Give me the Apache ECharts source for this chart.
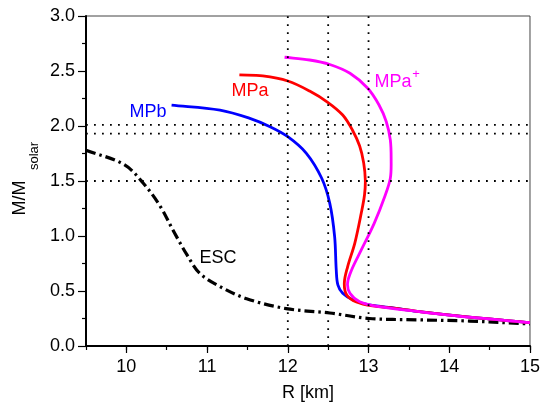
<!DOCTYPE html>
<html><head><meta charset="utf-8">
<script src="https://cdn.jsdelivr.net/npm/echarts@6/dist/echarts.min.js"></script>
<style>html,body{margin:0;padding:0;background:#fff}#c{width:543px;height:407px}</style>
</head><body><div id="c"></div>
<script>
// Data
const mpbR = [10.56, 11.16, 11.53, 11.78, 12.00, 12.23, 12.42, 12.52, 12.58, 12.60, 12.62, 12.68, 12.81, 13.01, 13.34, 13.63, 14.25, 15.0];
const mpbM = [2.19, 2.145, 2.07, 1.994, 1.903, 1.752, 1.525, 1.297, 0.994, 0.691, 0.555, 0.479, 0.418, 0.373, 0.343, 0.312, 0.262, 0.213];
const mpaR = [11.40, 11.69, 12.00, 12.27, 12.49, 12.68, 12.80, 12.89, 12.94, 12.96, 12.95, 12.91, 12.83, 12.74, 12.70, 12.73, 12.85, 13.05, 13.34, 13.63, 14.25, 15.0];
const mpaM = [2.464, 2.455, 2.409, 2.318, 2.218, 2.10, 1.964, 1.818, 1.664, 1.509, 1.373, 1.209, 0.936, 0.718, 0.573, 0.464, 0.40, 0.364, 0.343, 0.312, 0.262, 0.213];
const mppR = [11.96, 12.27, 12.52, 12.77, 12.99, 13.13, 13.22, 13.27, 13.28, 13.27, 13.20, 13.07, 12.91, 12.79, 12.74, 12.77, 12.89, 13.13, 13.63, 14.25, 15.0];
const mppM = [2.625, 2.60, 2.559, 2.479, 2.343, 2.191, 2.039, 1.873, 1.691, 1.525, 1.357, 1.115, 0.873, 0.691, 0.57, 0.479, 0.403, 0.357, 0.312, 0.262, 0.213];
const escR = [9.5, 9.97, 10.21, 10.42, 10.58, 10.75, 10.91, 11.16, 11.49, 11.98, 12.52, 13.01, 13.6, 14.25, 15.0];
const escM = [1.78, 1.65, 1.48, 1.27, 1.05, 0.83, 0.66, 0.54, 0.43, 0.34, 0.30, 0.25, 0.238, 0.227, 0.20];
const refR = [12, 12.5, 13];
const refM = [2.01, 1.93, 1.5];
const xTicks = [10, 11, 12, 13, 14, 15];

const zip = (a, b) => a.map((v, i) => [v, b[i]]);
const FONT = 'Liberation Sans';

// Smooth path through pixel points (chord-length tangents, cubic Bezier segments)
function buildPath(p, s) {
  const n = p.length;
  const tan = p.map((pt, i) => {
    const a = p[Math.max(i - 1, 0)], b = p[Math.min(i + 1, n - 1)];
    return [b[0] - a[0], b[1] - a[1]];
  });
  let d = 'M' + p[0][0] + ',' + p[0][1];
  for (let i = 0; i < n - 1; i++) {
    const p0 = p[i], p1 = p[i + 1];
    const L = Math.hypot(p1[0] - p0[0], p1[1] - p0[1]);
    const t0 = tan[i], t1 = tan[i + 1];
    const n0 = Math.hypot(t0[0], t0[1]) || 1, n1 = Math.hypot(t1[0], t1[1]) || 1;
    const c1 = [p0[0] + t0[0] / n0 * L * s, p0[1] + t0[1] / n0 * L * s];
    const c2 = [p1[0] - t1[0] / n1 * L * s, p1[1] - t1[1] / n1 * L * s];
    d += ' C' + c1[0] + ',' + c1[1] + ',' + c2[0] + ',' + c2[1] + ',' + p1[0] + ',' + p1[1];
  }
  return d;
}

function curve(name, R, M, style, z) {
  return {
    type: 'custom', name: name, data: zip(R, M), z: z, silent: true, clip: true,
    renderItem: function (params, api) {
      if (params.dataIndex !== 0) return null;
      const pts = R.map((r, i) => api.coord([r, M[i]]));
      return {
        type: 'path',
        shape: { pathData: buildPath(pts, 0.34) },
        style: Object.assign({ fill: 'none' }, style)
      };
    }
  };
}

const refSeries = [];
refR.forEach(r => refSeries.push({type:'line', data:[[r, 0],[r, 3]], symbol:'none', silent:true, z:5,
  lineStyle:{color:'#000', width:1.8, type:[1.8, 6.2]}}));
refM.forEach(m => refSeries.push({type:'line', data:[[9.5, m],[15, m]], symbol:'none', silent:true, z:5,
  lineStyle:{color:'#000', width:1.8, type:[1.8, 6.2]}}));

const chart = echarts.init(document.getElementById('c'), null, {renderer:'canvas'});
chart.setOption({
  animation:false,
  textStyle:{fontFamily:FONT},
  grid:{left:86, right:12, top:16, bottom:61, show:true, borderColor:'#444', borderWidth:1},
  xAxis:[{
    type:'value', min:9.5, max:15,
    axisLine:{show:true, lineStyle:{color:'#000', width:2}},
    axisTick:{show:true, length:7, lineStyle:{color:'#000', width:1.2}, customValues: xTicks},
    axisLabel:{color:'#000', fontSize:18, fontFamily:FONT, margin:12,
      customValues: xTicks, formatter: v => String(v)},
    splitLine:{show:false},
    name:'R [km]', nameLocation:'middle', nameGap:38,
    nameTextStyle:{color:'#000', fontSize:18, fontFamily:FONT}
  },{
    type:'value', min:9.5, max:15, interval:0.5, position:'bottom',
    axisLine:{show:false}, axisLabel:{show:false}, splitLine:{show:false},
    axisTick:{show:true, length:4, lineStyle:{color:'#000', width:1.2}}
  }],
  yAxis:{
    type:'value', min:0, max:3, interval:0.5,
    axisLine:{show:true, lineStyle:{color:'#000', width:2}},
    axisTick:{show:true, length:8, lineStyle:{color:'#000', width:1.2}},
    minorTick:{show:true, splitNumber:2, length:4, lineStyle:{color:'#000', width:1.2}},
    axisLabel:{color:'#000', fontSize:18, fontFamily:FONT, margin:11, formatter: v => v.toFixed(1)},
    splitLine:{show:false}
  },
  graphic:[
    {type:'text', x:20, y:198, rotation:Math.PI/2, style:{text:'M/M', fontSize:18, fontFamily:FONT, fill:'#000', align:'center', verticalAlign:'middle'}},
    {type:'text', x:34, y:156, rotation:Math.PI/2, style:{text:'solar', fontSize:13, fontFamily:FONT, fill:'#000', align:'center', verticalAlign:'middle'}},
    {type:'text', x:148, y:112, style:{text:'MPb', fontSize:18, fontFamily:FONT, fill:'#0000ff', align:'center', verticalAlign:'middle'}, z:20},
    {type:'text', x:250, y:91, style:{text:'MPa', fontSize:18, fontFamily:FONT, fill:'#ff0000', align:'center', verticalAlign:'middle'}, z:20},
    {type:'text', x:393, y:82, style:{text:'MPa', fontSize:18, fontFamily:FONT, fill:'#ff00ff', align:'center', verticalAlign:'middle'}, z:20},
    {type:'text', x:416, y:74, style:{text:'+', fontSize:13, fontFamily:FONT, fill:'#ff00ff', align:'center', verticalAlign:'middle'}, z:20},
    {type:'text', x:218, y:258, style:{text:'ESC', fontSize:18, fontFamily:FONT, fill:'#000', align:'center', verticalAlign:'middle'}, z:20}
  ],
  series:[
    curve('ESC', escR, escM, {stroke:'#000', lineWidth:3.2, lineDash:[10, 4, 2.5, 4], lineCap:'butt'}, 3),
    curve('MPb', mpbR, mpbM, {stroke:'#0000ff', lineWidth:2.8}, 4),
    curve('MPa', mpaR, mpaM, {stroke:'#ff0000', lineWidth:2.8}, 4),
    curve('MPa+', mppR, mppM, {stroke:'#ff00ff', lineWidth:2.8}, 4)
  ].concat(refSeries)
});
</script></body></html>
